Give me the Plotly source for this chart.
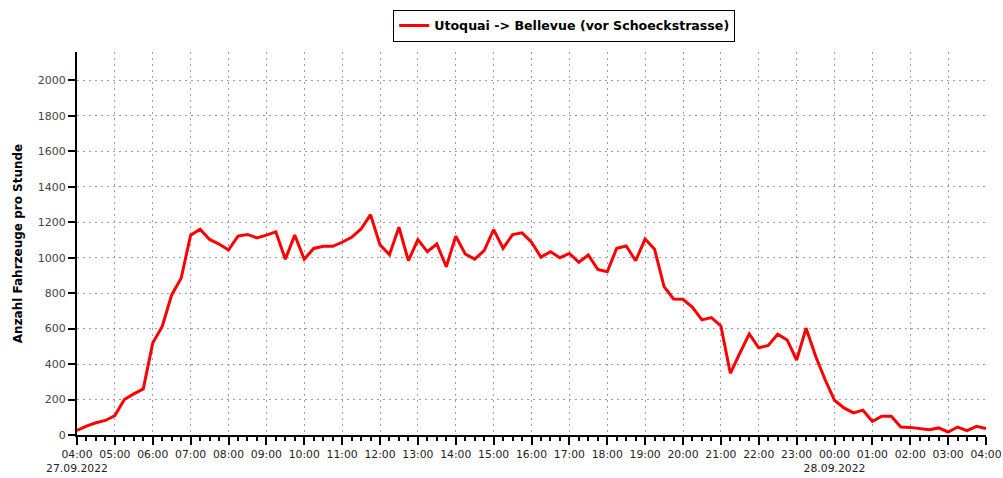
import pandas as pd
import plotly.graph_objects as go

series_name = "Utoquai -> Bellevue (vor Schoeckstrasse)"
y_title = "Anzahl Fahrzeuge pro Stunde"

start = "2022-09-27 04:00"
end = "2022-09-28 04:00"

# vehicles per hour, every 15 minutes from 27.09.2022 04:00 to 28.09.2022 04:00
values = [
    26, 50, 69, 82,            # 04
    110, 200, 232, 260,        # 05
    519, 612, 790, 884,        # 06
    1127, 1161, 1103, 1077,    # 07
    1043, 1122, 1131, 1112,    # 08
    1127, 1146, 991, 1127,     # 09
    991, 1052, 1064, 1064,     # 10
    1087, 1115, 1162, 1243,    # 11
    1072, 1017, 1172, 983,     # 12
    1102, 1034, 1077, 949,     # 13
    1121, 1021, 992, 1040,     # 14
    1158, 1053, 1130, 1140,    # 15
    1087, 1003, 1034, 1000,    # 16
    1024, 974, 1015, 934,      # 17
    921, 1053, 1066, 983,      # 18
    1105, 1047, 837, 767,      # 19
    765, 720, 649, 662,        # 20
    615, 348, 461, 570,        # 21
    492, 505, 568, 536,        # 22
    423, 602, 445, 313,        # 23
    196, 153, 125, 140,        # 00
    77, 106, 106, 45,          # 01
    43, 36, 30, 40,            # 02
    17, 45, 25, 49,            # 03
    36,                        # 04
]

times = pd.date_range(start, end, freq="15min")

tick_times = pd.date_range(start, end, freq="1h")
tick_labels = [
    "04:00<br>27.09.2022", "05:00", "06:00", "07:00", "08:00", "09:00", "10:00",
    "11:00", "12:00", "13:00", "14:00", "15:00", "16:00", "17:00", "18:00",
    "19:00", "20:00", "21:00", "22:00", "23:00", "00:00<br>28.09.2022",
    "01:00", "02:00", "03:00", "04:00",
]

y_ticks = list(range(0, 2001, 200))

FONT = "DejaVu Sans"
GRID = "#a0a0a0"
DASH = "2px,4px"

fig = go.Figure()
fig.add_trace(go.Scatter(
    x=times, y=values, mode="lines", name=series_name,
    line=dict(color="#ff0000", width=3),
    showlegend=True,
))

fig.update_layout(
    width=1003, height=478,
    margin=dict(l=77, r=17, t=52, b=43, autoexpand=False),
    paper_bgcolor="white", plot_bgcolor="white",
    font=dict(family=FONT, size=11, color="#222"),
    showlegend=True,
    legend=dict(
        orientation="h", x=0.536, xanchor="center", y=1.11, yanchor="top",
        bordercolor="#000", borderwidth=1, bgcolor="white",
        font=dict(family=FONT, size=12.6, color="#000", weight="bold"),
        itemwidth=30,
    ),
    xaxis=dict(
        type="date", automargin=False,
        range=[pd.Timestamp(start), pd.Timestamp(end)],
        tickvals=tick_times, ticktext=tick_labels, tickangle=0,
        showgrid=True, gridcolor=GRID, griddash=DASH, gridwidth=1,
        showline=True, linecolor="#000", linewidth=2,
        ticks="outside", ticklen=8, tickwidth=2, tickcolor="#000",
        minor=dict(dtick=15 * 60 * 1000, ticks="outside", ticklen=4,
                   tickwidth=2, tickcolor="#000", showgrid=False),
        tickfont=dict(family=FONT, size=10.8, color="#222"),
        zeroline=False,
    ),
    yaxis=dict(
        automargin=False,
        range=[0, 2160],
        tickvals=y_ticks,
        showgrid=True, gridcolor=GRID, griddash=DASH, gridwidth=1,
        showline=True, linecolor="#000", linewidth=2,
        ticks="outside", ticklen=7, tickwidth=2, tickcolor="#000",
        tickfont=dict(family=FONT, size=11, color="#444"),
        zeroline=False,
        title=dict(text=y_title, standoff=13,
                   font=dict(family=FONT, size=12, color="#000", weight="bold")),
    ),
)

fig.write_html(
    "out.html",
    config={"displayModeBar": False},
    post_script="document.body.style.margin='0';document.body.style.overflow='hidden';",
)
